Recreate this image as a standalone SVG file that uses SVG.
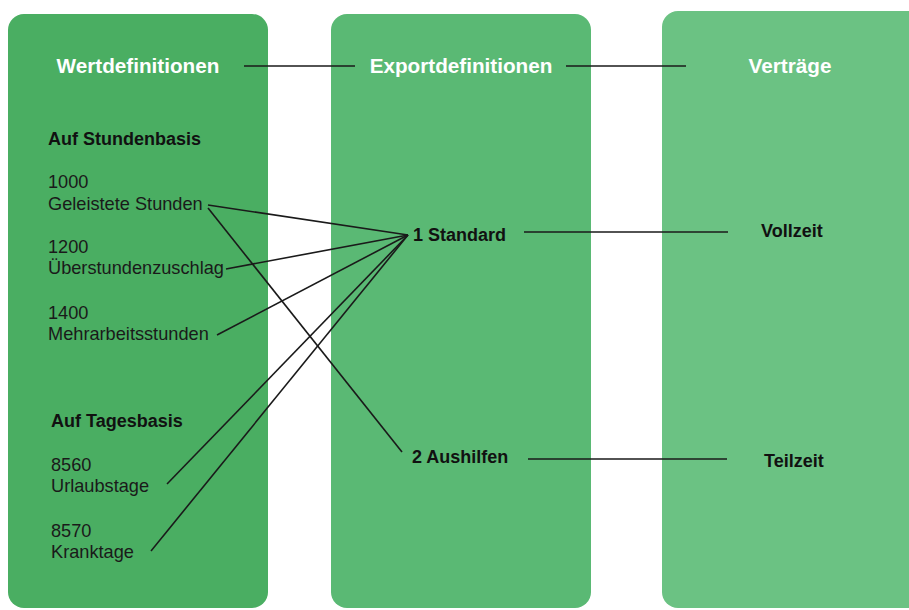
<svg xmlns="http://www.w3.org/2000/svg" width="909" height="610" viewBox="0 0 909 610">
<style>
.hdr{font-family:"Liberation Sans",Arial,sans-serif;font-weight:bold;font-size:20.7px;fill:#ffffff;text-anchor:middle}
.lbl{font-family:"Liberation Sans",Arial,sans-serif;font-size:18.2px;fill:#1a1a1a}
.bold{font-family:"Liberation Sans",Arial,sans-serif;font-weight:bold;font-size:18px;fill:#111111}
.conn{stroke:#1a1a1a;stroke-width:1.6;fill:none}
</style>
<rect width="909" height="610" fill="#ffffff"/>
<g id="col-wertdefinitionen">
<rect x="8" y="14" width="260" height="594" rx="16" fill="#4aae62"/>
<text class="hdr" x="138" y="73">Wertdefinitionen</text>
<text class="bold" x="48" y="145">Auf Stundenbasis</text>
</g>
<g id="col-exportdefinitionen">
<rect x="331" y="14" width="260" height="594" rx="16" fill="#5ab974"/>
<text class="hdr" x="461" y="73">Exportdefinitionen</text>
</g>
<g id="col-vertraege">
<rect x="662" y="11" width="270" height="597" rx="16" fill="#6bc283"/>
<text class="hdr" x="790" y="73">Verträge</text>
</g>
<g id="n1000"><text class="lbl" x="48" y="188">1000</text><text class="lbl" x="48" y="210">Geleistete Stunden</text></g>
<g id="n1200"><text class="lbl" x="48" y="253">1200</text><text class="lbl" x="48" y="274">Überstundenzuschlag</text></g>
<g id="n1400"><text class="lbl" x="48" y="319">1400</text><text class="lbl" x="48" y="340">Mehrarbeitsstunden</text></g>
<g id="tagesbasis"><text class="bold" x="51" y="427">Auf Tagesbasis</text></g>
<g id="n8560"><text class="lbl" x="51" y="471">8560</text><text class="lbl" x="51" y="492">Urlaubstage</text></g>
<g id="n8570"><text class="lbl" x="51" y="537">8570</text><text class="lbl" x="51" y="558">Kranktage</text></g>
<g id="standard"><text class="bold" x="413" y="241">1 Standard</text></g>
<g id="aushilfen"><text class="bold" x="412" y="463">2 Aushilfen</text></g>
<g id="vollzeit"><text class="bold" x="761" y="237">Vollzeit</text></g>
<g id="teilzeit"><text class="bold" x="764" y="467">Teilzeit</text></g>
<g id="connectors">
<line class="conn" x1="244" y1="66" x2="355" y2="66"/>
<line class="conn" x1="566" y1="66" x2="686" y2="66"/>
<line class="conn" x1="208" y1="205" x2="408" y2="235"/>
<line class="conn" x1="208" y1="208" x2="402" y2="452"/>
<line class="conn" x1="226" y1="269" x2="408" y2="235"/>
<line class="conn" x1="217" y1="335" x2="408" y2="235"/>
<line class="conn" x1="167" y1="484" x2="408" y2="235"/>
<line class="conn" x1="151" y1="551" x2="408" y2="235"/>
<line class="conn" x1="524" y1="232" x2="728" y2="232"/>
<line class="conn" x1="528" y1="459" x2="727" y2="459"/>
</g>
</svg>
